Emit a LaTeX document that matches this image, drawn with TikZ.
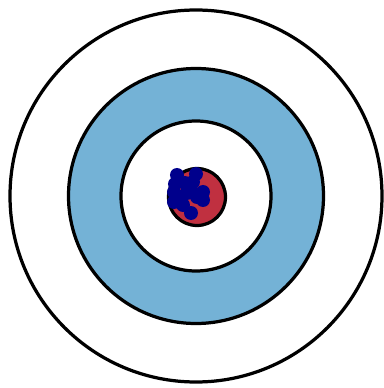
\documentclass[tikz,border=0pt]{standalone}
\usepackage{tikz}
\usetikzlibrary{calc}
\definecolor{RingBlue}{RGB}{116,178,214}
\definecolor{BullRed}{RGB}{192,48,64}
\definecolor{ShotNavy}{RGB}{0,0,140}
\begin{document}
\begin{tikzpicture}[x=0.025cm, y=0.025cm, ring/.style={draw=black, line width=2.3pt}]
        \useasboundingbox (-196,-192) rectangle (187,196);
        % Target rings
        \draw [ring, fill=white] (0,0) coordinate (centre) circle (186);
        \draw [ring, fill=RingBlue] (centre) circle (127.5);
        \draw [ring, fill=white] (centre) circle (75);
        % Bullseye
        \draw [ring, fill=BullRed] ($(centre)+(1,-1)$) circle (28.5);
        % Shots
        \foreach \sx/\sy in {-19/21, 0/22, -21/12, -11/13, -3/14, 7/4, 1/-1, -9/3,
                             -22/4, -22/-6, -13/-9, -5/-17, 7/-4, -16/-1, -5/6}
            \fill [ShotNavy] ($(centre)+(\sx,\sy)$) circle (7);
    \end{tikzpicture}
\end{document}
